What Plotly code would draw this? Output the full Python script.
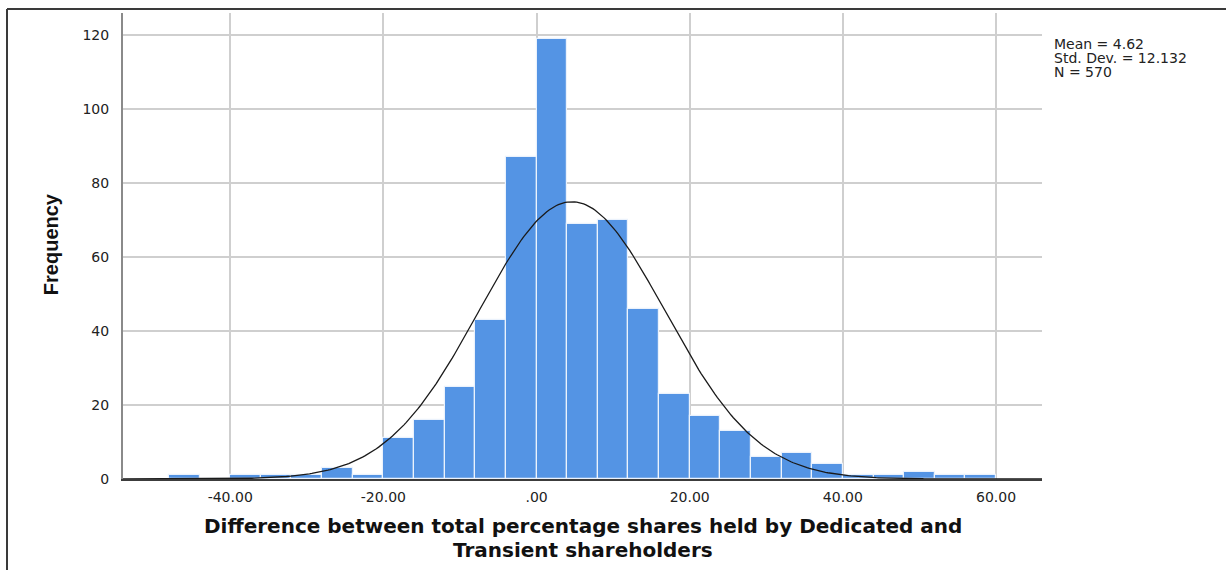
import numpy as np
import plotly.graph_objects as go

# Histogram bins (left edges, width 4) and frequencies
bin_left = [-48, -44, -40, -36, -32, -28, -24, -20, -16, -12, -8, -4, 0, 4, 8,
            12, 16, 20, 24, 28, 32, 36, 40, 44, 48, 52, 56]
counts = [1, 0, 1, 1, 1, 3, 1, 11, 16, 25, 43, 87, 119, 69, 70,
          46, 23, 17, 13, 6, 7, 4, 1, 1, 2, 1, 1]
bin_width = 4

# Summary statistics shown beside the plot
mean_val = 4.62
std_val = 12.132
n_val = 570

x_tick_vals = [-40, -20, 0, 20, 40, 60]
x_tick_text = ["-40.00", "-20.00", ".00", "20.00", "40.00", "60.00"]
y_tick_vals = [0, 20, 40, 60, 80, 100, 120]

x_range = [-54, 66]
y_range = [0, 126]

centers = [b + bin_width / 2 for b in bin_left]

# Normal curve scaled to the histogram counts
xs = np.linspace(x_range[0], x_range[1], 400)
ys = n_val * bin_width / (std_val * np.sqrt(2 * np.pi)) * np.exp(-0.5 * ((xs - mean_val) / std_val) ** 2)

fig = go.Figure()
fig.add_trace(go.Bar(
    x=centers, y=counts, width=bin_width,
    marker=dict(color="rgb(84,148,228)", line=dict(color="rgba(235,242,252,1)", width=1.2)),
    showlegend=False, hoverinfo="x+y",
))
fig.add_trace(go.Scatter(
    x=xs, y=ys, mode="lines",
    line=dict(color="#1a1a1a", width=1.3),
    showlegend=False, hoverinfo="skip",
))

tick_font = dict(family="DejaVu Sans", size=14, color="#222222")

fig.update_layout(
    width=1226, height=570,
    margin=dict(l=123, r=184, t=13, b=91),
    paper_bgcolor="white", plot_bgcolor="white",
    bargap=0,
    xaxis=dict(
        range=x_range, tickvals=x_tick_vals, ticktext=x_tick_text,
        showgrid=True, gridcolor="#cfcfcf", gridwidth=2,
        zeroline=False, showline=True, linecolor="#3c3c3c", linewidth=2,
        ticks="", tickfont=tick_font, ticklabelstandoff=4,
    ),
    yaxis=dict(
        range=y_range, tickvals=y_tick_vals,
        showgrid=True, gridcolor="#cfcfcf", gridwidth=1.5,
        zeroline=False, showline=True, linecolor="#8a8a8a", linewidth=2,
        ticks="", tickfont=tick_font, ticklabelstandoff=9,
    ),
)

# X axis title, two lines
title_lines = ["Difference between total percentage shares held by Dedicated and",
               "Transient shareholders"]
for i, line in enumerate(title_lines):
    fig.add_annotation(
        xref="paper", yref="paper", x=0.5, y=(479 - 526 - 24 * i) / 466,
        xanchor="center", yanchor="middle", showarrow=False,
        text=f"<b>{line}</b>",
        font=dict(family="DejaVu Sans", size=20, color="#111111"),
    )

# Y axis title
fig.add_annotation(
    xref="paper", yref="paper", x=-0.0783, y=0.504,
    xanchor="center", yanchor="middle", showarrow=False, textangle=-90,
    text="<b>Frequency</b>",
    font=dict(family="Liberation Sans Narrow, Liberation Sans", size=20, color="#111111"),
)

# Statistics block
stats_lines = [f"Mean = {mean_val:.2f}", f"Std. Dev. = {std_val:.3f}", f"N = {n_val}"]
for i, line in enumerate(stats_lines):
    fig.add_annotation(
        xref="paper", yref="paper", x=(1052 - 123) / 919, y=(479 - 44 - 14 * i) / 466,
        xanchor="left", yanchor="middle", showarrow=False,
        text=line, font=dict(family="DejaVu Sans", size=14, color="#222222"),
    )

# Outer frame (top and left edges)
fig.add_shape(type="line", xref="paper", yref="paper",
              x0=(7 - 123) / 919, x1=(1226 - 123) / 919, y0=(479 - 9) / 466, y1=(479 - 9) / 466,
              line=dict(color="#3a3a3a", width=2))
fig.add_shape(type="line", xref="paper", yref="paper",
              x0=(7 - 123) / 919, x1=(7 - 123) / 919, y0=(479 - 9) / 466, y1=(479 - 575) / 466,
              line=dict(color="#3a3a3a", width=2))

fig.write_html("out.html")
